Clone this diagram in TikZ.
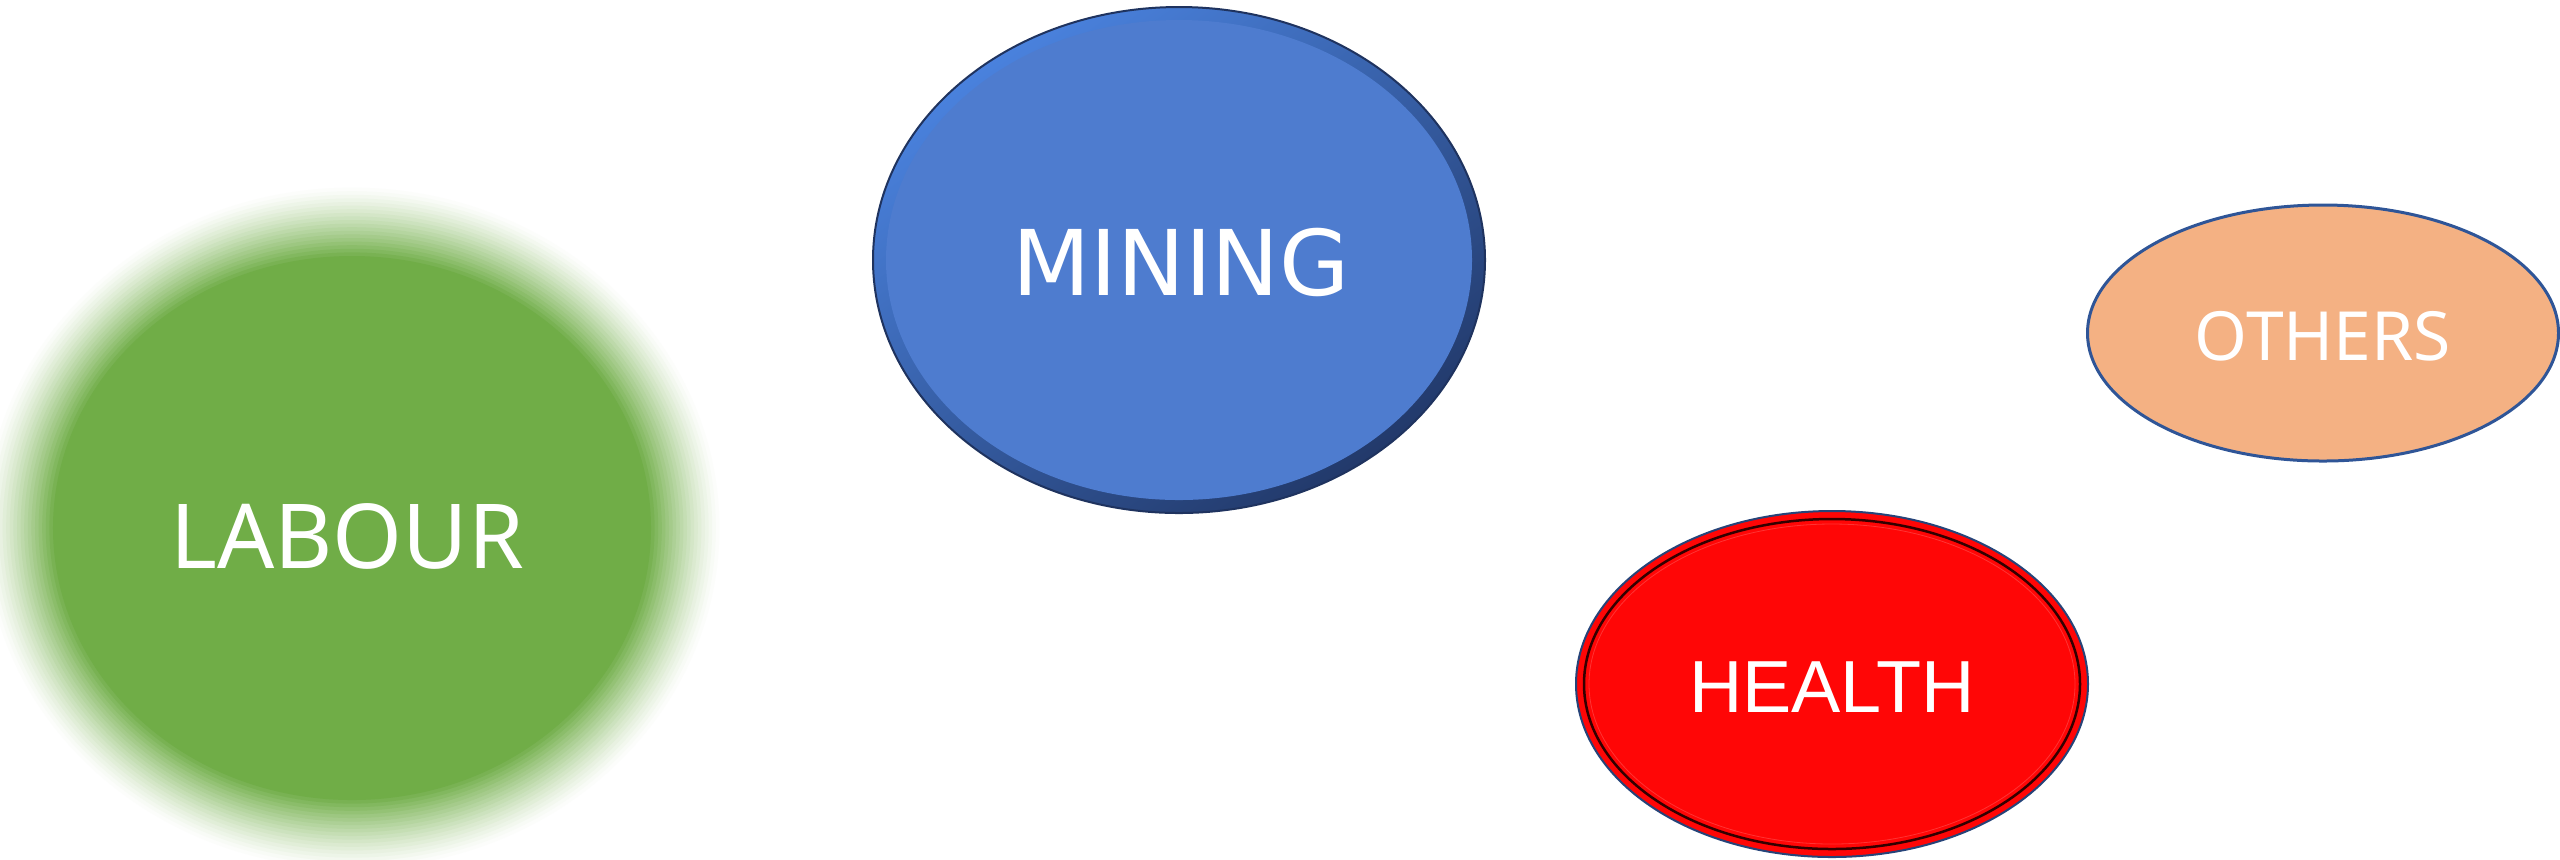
\documentclass[tikz,border=0pt]{standalone}
\usepackage{fontspec}
\usepackage{tikz}
\usetikzlibrary{shapes.geometric}
\newfontfamily\miningfont{DejaVu Sans}
\newfontfamily\labelfont{Noto Sans}
\newfontfamily\healthfont{Liberation Sans}
\definecolor{labourgreen}{HTML}{70AD47}
\definecolor{miningblue}{HTML}{4E7CCF}
\definecolor{minlight}{HTML}{4A82DE}
\definecolor{mindark}{HTML}{22396A}
\definecolor{healthred}{HTML}{FF0606}
\definecolor{othersfill}{HTML}{F4B183}
\definecolor{othersline}{HTML}{2F5597}

\begin{document}
\begin{tikzpicture}
        %
        % `caption' is the white text on each blob.
        % `rim' is the thin dark outline of the blobs.
        \tikzstyle{caption} = [text=white,inner sep=0pt]
        \tikzstyle{rim} = [draw=othersline,line width=0.03cm]
        %
        % Frame
        \clip (0,0) rectangle (25.6,-8.59);
        \fill[white] (0,0) rectangle (25.6,-8.59);
        %
        % Labour (soft edge)
        \coordinate (lab) at (3.52,-5.28);
        \foreach \i [evaluate=\i as \pct using 100*(\i/20)^1.3,
                     evaluate=\i as \d using 0.36-0.036*\i] in {0,...,20}
            \fill[labourgreen!\pct!white] (lab) ellipse ({3.35+\d} and {3.08+\d});
        \node[caption,font=\labelfont\fontsize{25.5}{30}\selectfont] (labour) at (3.47,-5.36) {LABOUR};
        %
        % Mining
        \coordinate (min) at (11.79,-2.60);
        \shade[shading=axis,top color=minlight,bottom color=mindark,shading angle=35]
            (min) ellipse (3.06 and 2.53);
        \draw[mindark!90!black,line width=0.02cm] (min) ellipse (3.06 and 2.53);
        \fill[miningblue] (min) ellipse (2.93 and 2.40);
        \node[caption,font=\miningfont\fontsize{25.8}{30}\selectfont] (mining) at (11.81,-2.62) {MINING};
        %
        % Health
        \coordinate (hea) at (18.32,-6.84);
        \fill[healthred,rim,draw=othersline!80!black,line width=0.02cm] (hea) ellipse (2.56 and 1.73);
        \draw[black!80!red,line width=0.025cm] (hea) ellipse (2.48 and 1.65);
        \draw[red!80!white,line width=0.008cm] (hea) ellipse (2.43 and 1.60);
        \node[caption,font=\healthfont\fontsize{21}{25}\selectfont] (health) at (18.32,-6.87) {HEALTH};
        %
        % Others
        \coordinate (oth) at (23.23,-3.33);
        \fill[othersfill,rim] (oth) ellipse (2.355 and 1.28);
        \node[caption,font=\labelfont\fontsize{19.3}{23}\selectfont] (others) at (23.23,-3.36) {OTHERS};
        %
\end{tikzpicture}
\end{document}
